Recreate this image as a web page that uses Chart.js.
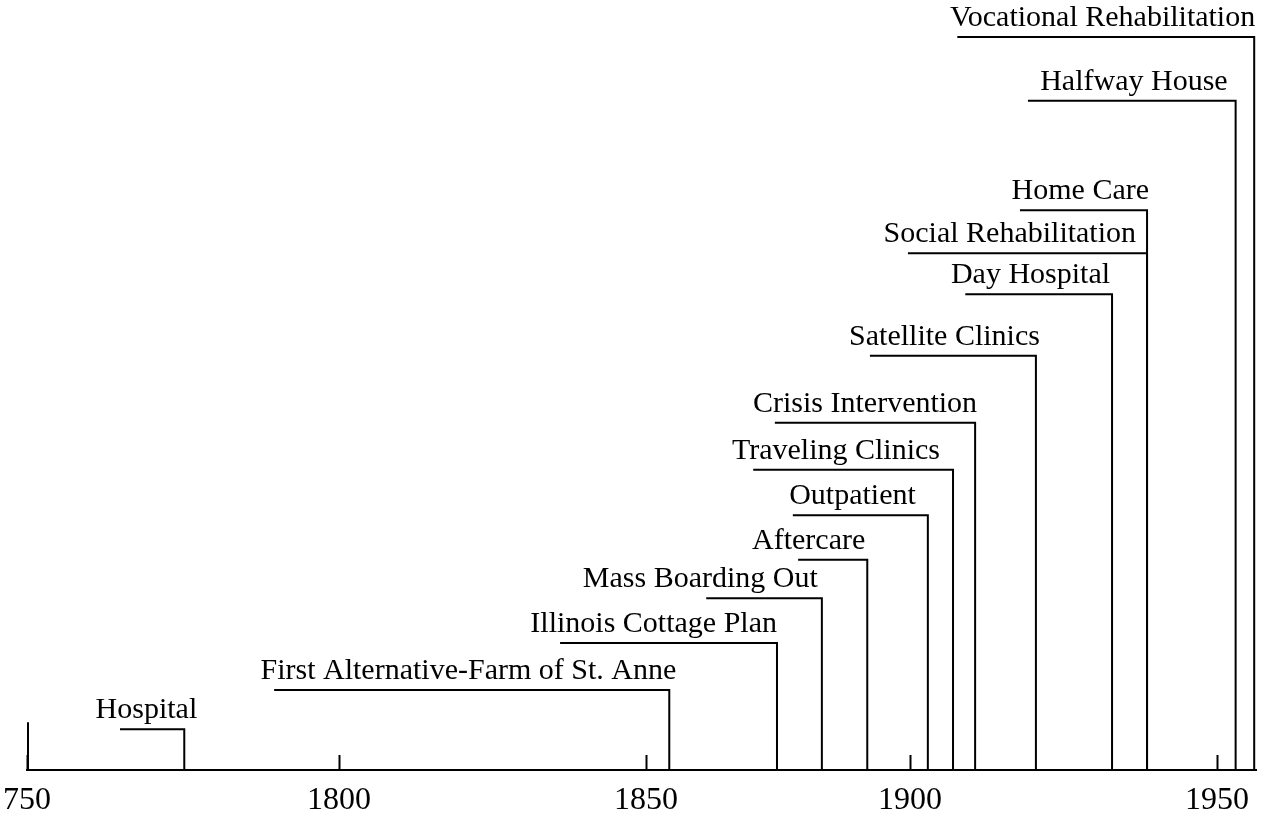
<!DOCTYPE html>
<html>
<head>
<meta charset="utf-8">
<script src="https://cdn.jsdelivr.net/npm/chart.js@4.4.1/dist/chart.umd.min.js"></script>
<style>
  html, body { margin: 0; padding: 0; background: #ffffff; }
  canvas { display: block; }
</style>
</head>
<body>
<canvas id="timeline" width="1267" height="820"></canvas>
<script>
// services, bottom of the stair to the top
const services = [
  'Hospital',
  'First Alternative-Farm of St. Anne',
  'Illinois Cottage Plan',
  'Mass Boarding Out',
  'Aftercare',
  'Outpatient',
  'Traveling Clinics',
  'Crisis Intervention',
  'Satellite Clinics',
  'Day Hospital',
  'Social Rehabilitation',
  'Home Care',
  'Halfway House',
  'Vocational Rehabilitation',
];
// year each service appears (where its line drops to the axis)
const introduced = [1775.2, 1854.4, 1874.8, 1883.3, 1891.9, 1902.9, 1907.0, 1910.6, 1920.5, 1932.9, 1938.6, 1938.6, 1953.1, 1956.2];
// year where the label's leader line begins
const leaderFrom = [1764.9, 1789.6, 1836.0, 1861.4, 1878.8, 1877.8, 1870.3, 1874.4, 1892.4, 1909.0, 1899.6, 1917.9, 1919.2, 1907.7];
// height of each step above the axis (0..100)
const level = [5.3, 10.4, 16.5, 22.3, 27.3, 33.1, 39.0, 45.1, 53.8, 61.8, 67.1, 72.7, 86.9, 95.2];
// axis ticks
const tickYears = [1750, 1800, 1850, 1900, 1950];
const tickLabels = ['750', '1800', '1850', '1900', '1950'];

// the printed axis is not evenly spaced, so map years piecewise
const axisKnots = [[1750, 0], [1800, 0.2539], [1850, 0.5037], [1900, 0.7185], [1950, 0.9683], [1956.5, 1]];
// hand set offsets (px) of each label's right end from its drop line
const labelNudge = [13, 7, 0, -4, -2, -12, -13, 2, 4, -2, -11, 2, -8, 1];

class SegmentedScale extends Chart.LinearScale {
  getPixelForValue(value) {
    if (value === null || value === undefined) return NaN;
    let k = axisKnots;
    let i = 1;
    while (i < k.length - 1 && value > k[i][0]) i++;
    const a = k[i - 1], b = k[i];
    const dec = a[1] + (value - a[0]) / (b[0] - a[0]) * (b[1] - a[1]);
    return this.getPixelForDecimal(dec);
  }
  getValueForPixel(pixel) {
    const dec = this.getDecimalForPixel(pixel);
    let k = axisKnots;
    let i = 1;
    while (i < k.length - 1 && dec > k[i][1]) i++;
    const a = k[i - 1], b = k[i];
    return a[0] + (dec - a[1]) / (b[1] - a[1]) * (b[0] - a[0]);
  }
}
SegmentedScale.id = 'segmented';
SegmentedScale.defaults = Chart.LinearScale.defaults;
Chart.register(SegmentedScale);

const datasets = services.map((name, i) => ({
  label: name,
  data: [
    { x: leaderFrom[i], y: level[i] },
    { x: introduced[i], y: level[i] },
    { x: introduced[i], y: 0 },
  ],
  borderColor: '#000',
  borderWidth: 2,
  pointRadius: 0,
  tension: 0,
  fill: false,
}));

// labels over the steps, plus the tall mark at the start of the axis
const stepLabels = {
  id: 'stepLabels',
  afterDatasetsDraw(chart) {
    const ctx = chart.ctx;
    const xs = chart.scales.x, ys = chart.scales.y;
    ctx.save();
    ctx.strokeStyle = '#000';
    ctx.lineWidth = 2;
    const x0 = Math.round(xs.getPixelForValue(tickYears[0])) + 1;
    ctx.beginPath();
    ctx.moveTo(x0, ys.getPixelForValue(0));
    ctx.lineTo(x0, ys.getPixelForValue(6.2));
    ctx.stroke();

    ctx.fillStyle = '#000';
    ctx.font = '30px "Liberation Serif", "Times New Roman", serif';
    ctx.textAlign = 'right';
    ctx.textBaseline = 'alphabetic';
    services.forEach((name, i) => {
      const x = xs.getPixelForValue(introduced[i]);
      const y = ys.getPixelForValue(level[i]);
      ctx.fillText(name, x + labelNudge[i], y - 11);
    });
    ctx.restore();
  }
};

new Chart(document.getElementById('timeline'), {
  type: 'line',
  data: { datasets: datasets },
  plugins: [stepLabels],
  options: {
    responsive: false,
    animation: false,
    layout: { padding: { left: 27, right: 11, top: 0, bottom: 0 } },
    plugins: {
      legend: { display: false },
      tooltip: { enabled: false },
    },
    scales: {
      x: {
        type: 'segmented',
        min: 1750,
        max: 1956.5,
        afterBuildTicks: (scale) => {
          scale.ticks = tickYears.map(v => ({ value: v }));
        },
        afterFit: (scale) => {
          scale.height = 50;
          scale.paddingLeft = 0;
          scale.paddingRight = 0;
        },
        grid: {
          drawOnChartArea: false,
          drawTicks: true,
          tickLength: -15,
          tickWidth: 2,
          tickColor: '#000',
        },
        border: { display: true, color: '#000', width: 2 },
        ticks: {
          autoSkip: false,
          maxRotation: 0,
          padding: 26,
          color: '#000',
          font: { family: 'Liberation Serif', size: 32 },
          callback: (value, index) => tickLabels[index],
        },
      },
      y: {
        display: false,
        min: 0,
        max: 100,
      },
    },
  },
});
</script>
</body>
</html>
